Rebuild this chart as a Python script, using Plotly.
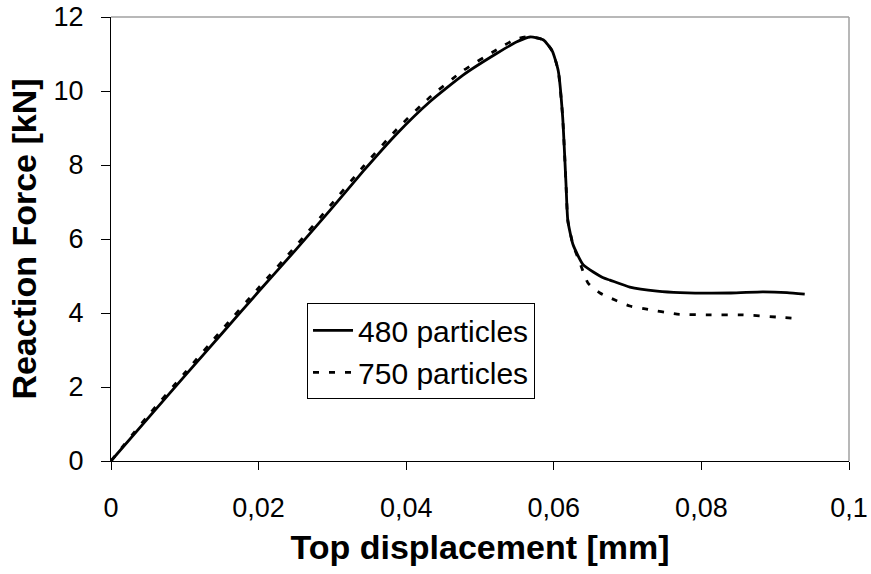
import plotly.graph_objects as go

# Reaction force vs top displacement for two particle discretisations
disp_480 = [0, 0.005, 0.01, 0.015, 0.02, 0.025, 0.0297, 0.0342, 0.0387, 0.0432,
            0.0477, 0.0523, 0.055, 0.0568, 0.0586, 0.0598, 0.0606, 0.0612, 0.06165,
            0.0619, 0.0626, 0.0640, 0.0667, 0.0676, 0.0703, 0.0740, 0.0771, 0.0840,
            0.0883, 0.0916, 0.0940]
force_480 = [0, 1.15, 2.3, 3.44, 4.58, 5.7, 6.78, 7.84, 8.84, 9.71,
             10.43, 11.02, 11.33, 11.46, 11.38, 11.08, 10.55, 9.3, 7.5,
             6.5, 5.85, 5.3, 4.95, 4.89, 4.70, 4.59, 4.55, 4.54,
             4.57, 4.55, 4.51]

disp_750 = [0, 0.005, 0.01, 0.015, 0.02, 0.025, 0.0297, 0.0342, 0.0387, 0.0432,
            0.0477, 0.0523, 0.0548, 0.0565, 0.0586, 0.0598, 0.0606, 0.0612, 0.06165,
            0.0619, 0.0626, 0.06355, 0.06463, 0.06626, 0.0683, 0.0703, 0.0724,
            0.0767, 0.0812, 0.0856, 0.0902, 0.0924]
force_750 = [0, 1.22, 2.38, 3.54, 4.68, 5.8, 6.9, 7.96, 8.96, 9.83,
             10.55, 11.12, 11.4, 11.47, 11.38, 11.08, 10.55, 9.3, 7.5,
             6.5, 5.85, 5.35, 4.81, 4.54, 4.35, 4.19, 4.11,
             3.97, 3.95, 3.95, 3.89, 3.86]

x_ticks = [0, 0.02, 0.04, 0.06, 0.08, 0.1]
x_ticklabels = ["0", "0,02", "0,04", "0,06", "0,08", "0,1"]
y_ticks = [0, 2, 4, 6, 8, 10, 12]

font_family = "Liberation Sans, Arial, sans-serif"

fig = go.Figure()
fig.add_trace(go.Scatter(
    x=disp_480, y=force_480, mode="lines", name="480 particles",
    line=dict(color="black", width=2.8, shape="spline", smoothing=0.5),
))
fig.add_trace(go.Scatter(
    x=disp_750, y=force_750, mode="lines", name="750 particles",
    line=dict(color="black", width=2.8, dash="6px,10px", shape="spline", smoothing=0.5),
))

fig.update_layout(
    width=871, height=574,
    margin=dict(l=111, r=22, t=17, b=113),
    paper_bgcolor="white", plot_bgcolor="white",
    font=dict(family=font_family, color="black", size=27),
    showlegend=True,
    legend=dict(
        x=0.2656, y=0.355, xanchor="left", yanchor="top",
        bgcolor="white", bordercolor="black", borderwidth=1,
        font=dict(size=30, family=font_family),
        itemwidth=40, tracegroupgap=0,
    ),
    xaxis=dict(
        range=[0, 0.1], tickvals=x_ticks, ticktext=x_ticklabels, automargin=False,
        showgrid=False, zeroline=False, showline=True, linecolor="black", linewidth=1,
        ticks="outside", ticklen=8, tickcolor="black",
        tickfont=dict(size=27), ticklabelstandoff=15,
        title=dict(text="<b>Top displacement [mm]</b>", font=dict(size=34), standoff=12),
    ),
    yaxis=dict(
        range=[0, 12], tickvals=y_ticks, automargin=False,
        showgrid=False, zeroline=False, showline=True, linecolor="black", linewidth=1,
        ticks="outside", ticklen=9, tickcolor="black",
        tickfont=dict(size=27), ticklabelstandoff=12,
        title=dict(text="<b>Reaction Force [kN]</b>", font=dict(size=34), standoff=6),
    ),
    shapes=[
        dict(type="line", xref="paper", yref="paper", x0=0, x1=1, y0=1, y1=1,
             line=dict(color="#a0a0a0", width=1.5)),
        dict(type="line", xref="paper", yref="paper", x0=1, x1=1, y0=0, y1=1,
             line=dict(color="#a0a0a0", width=1.5)),
    ],
)

fig.write_html("out.html")
